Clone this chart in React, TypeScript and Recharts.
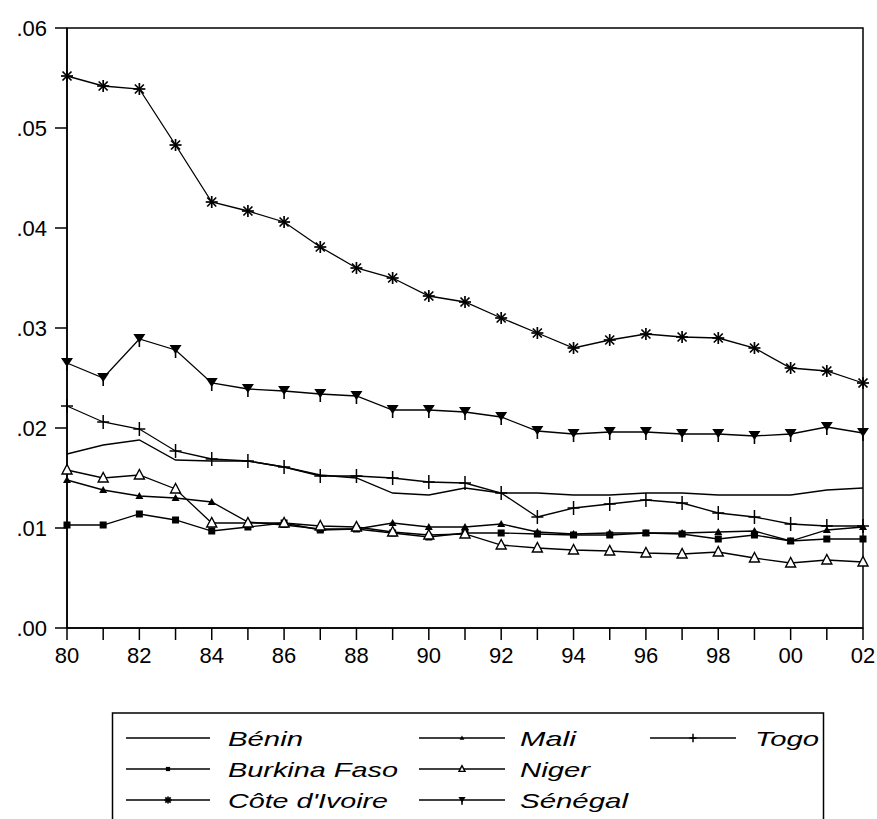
import React from 'react';
import { LineChart, Line, XAxis, YAxis, ReferenceArea } from 'recharts';

const years = ['80','81','82','83','84','85','86','87','88','89','90','91','92','93','94','95','96','97','98','99','00','01','02'];
const yTicks = [0, 0.01, 0.02, 0.03, 0.04, 0.05, 0.06];

const benin = [0.0174, 0.0183, 0.0188, 0.0168, 0.0167, 0.0167, 0.0161, 0.0153, 0.0150, 0.0135, 0.0133, 0.0140, 0.0135, 0.0135, 0.0133, 0.0133, 0.0135, 0.0135, 0.0133, 0.0133, 0.0133, 0.0138, 0.0140];
const burkina = [0.0103, 0.0103, 0.0114, 0.0108, 0.0097, 0.0101, 0.0105, 0.0098, 0.0099, 0.0095, 0.0091, 0.0095, 0.0095, 0.0094, 0.0093, 0.0093, 0.0095, 0.0094, 0.0089, 0.0093, 0.0087, 0.0089, 0.0089];
const coteIvoire = [0.0552, 0.0542, 0.0539, 0.0483, 0.0426, 0.0417, 0.0406, 0.0381, 0.0360, 0.0350, 0.0332, 0.0326, 0.0310, 0.0295, 0.0280, 0.0288, 0.0294, 0.0291, 0.0290, 0.0280, 0.0260, 0.0257, 0.0245];
const mali = [0.0148, 0.0138, 0.0132, 0.0130, 0.0126, 0.0106, 0.0103, 0.0099, 0.0099, 0.0105, 0.0101, 0.0101, 0.0104, 0.0096, 0.0094, 0.0095, 0.0095, 0.0095, 0.0096, 0.0097, 0.0087, 0.0098, 0.0101];
const niger = [0.0158, 0.0150, 0.0153, 0.0139, 0.0105, 0.0105, 0.0105, 0.0102, 0.0101, 0.0096, 0.0093, 0.0094, 0.0083, 0.0080, 0.0078, 0.0077, 0.0075, 0.0074, 0.0076, 0.0070, 0.0065, 0.0068, 0.0066];
const senegal = [0.0265, 0.0250, 0.0289, 0.0278, 0.0245, 0.0239, 0.0237, 0.0234, 0.0232, 0.0218, 0.0218, 0.0216, 0.0211, 0.0197, 0.0194, 0.0196, 0.0196, 0.0194, 0.0194, 0.0192, 0.0194, 0.0201, 0.0195];
const togo = [0.0222, 0.0206, 0.0199, 0.0177, 0.0169, 0.0167, 0.0161, 0.0152, 0.0152, 0.0150, 0.0146, 0.0145, 0.0135, 0.0111, 0.0120, 0.0124, 0.0128, 0.0125, 0.0115, 0.0111, 0.0104, 0.0102, 0.0102];

const data = years.map((year, i) => ({
  year,
  benin: benin[i],
  burkina: burkina[i],
  cote: coteIvoire[i],
  mali: mali[i],
  niger: niger[i],
  senegal: senegal[i],
  togo: togo[i],
}));

type Shape = 'none' | 'square' | 'asterisk' | 'triUp' | 'triOpen' | 'triDown' | 'plus';

function Marker({ shape, cx, cy, s = 1 }: { shape: Shape; cx: number; cy: number; s?: number }) {
  const k = (v: number) => v * s;
  switch (shape) {
    case 'square':
      return <rect x={cx - k(3.5)} y={cy - k(3.5)} width={k(7)} height={k(7)} fill="#000" />;
    case 'asterisk':
      return (
        <g stroke="#000" strokeWidth={1.7}>
          <line x1={cx - k(6)} y1={cy} x2={cx + k(6)} y2={cy} />
          <line x1={cx} y1={cy - k(6)} x2={cx} y2={cy + k(6)} />
          <line x1={cx - k(4.5)} y1={cy - k(4.5)} x2={cx + k(4.5)} y2={cy + k(4.5)} />
          <line x1={cx - k(4.5)} y1={cy + k(4.5)} x2={cx + k(4.5)} y2={cy - k(4.5)} />
        </g>
      );
    case 'triUp':
      return <polygon points={`${cx},${cy - k(4)} ${cx - k(4)},${cy + k(3)} ${cx + k(4)},${cy + k(3)}`} fill="#000" />;
    case 'triOpen':
      return <polygon points={`${cx},${cy - k(5.5)} ${cx - k(5)},${cy + k(4)} ${cx + k(5)},${cy + k(4)}`} fill="#fff" stroke="#000" strokeWidth={1.4} />;
    case 'triDown':
      return (
        <g>
          <polygon points={`${cx - k(6)},${cy - k(5)} ${cx + k(6)},${cy - k(5)} ${cx},${cy + k(4)}`} fill="#000" />
          <line x1={cx} y1={cy} x2={cx} y2={cy + k(8)} stroke="#000" strokeWidth={1.6} />
        </g>
      );
    case 'plus':
      return (
        <g stroke="#000" strokeWidth={1.5}>
          <line x1={cx - k(6)} y1={cy} x2={cx + k(6)} y2={cy} />
          <line x1={cx} y1={cy - k(7)} x2={cx} y2={cy + k(7)} />
        </g>
      );
    default:
      return null;
  }
}

const makeDot = (shape: Shape, name: string) => (props: any) => {
  const { cx, cy, index } = props;
  if (cx == null || cy == null) return <g key={`${name}-${index}`} />;
  return (
    <g key={`${name}-${index}`}>
      <Marker shape={shape} cx={cx} cy={cy} />
    </g>
  );
};

const seriesDefs: { key: string; label: string; shape: Shape }[] = [
  { key: 'benin', label: 'Bénin', shape: 'none' },
  { key: 'burkina', label: 'Burkina Faso', shape: 'square' },
  { key: 'cote', label: "Côte d'Ivoire", shape: 'asterisk' },
  { key: 'mali', label: 'Mali', shape: 'triUp' },
  { key: 'niger', label: 'Niger', shape: 'triOpen' },
  { key: 'senegal', label: 'Sénégal', shape: 'triDown' },
  { key: 'togo', label: 'Togo', shape: 'plus' },
];

const legendLayout = [
  { col: 0, row: 0, w: 75 },
  { col: 0, row: 1, w: 170 },
  { col: 0, row: 2, w: 160 },
  { col: 1, row: 0, w: 56 },
  { col: 1, row: 1, w: 70 },
  { col: 1, row: 2, w: 108 },
  { col: 2, row: 0, w: 64 },
];
const colLine = [[126, 210], [419, 505], [650, 736]];
const colText = [228, 520, 755];
const rowY = [738, 769, 800];

const font = "'Liberation Sans', Arial, sans-serif";

export default function App() {
  return (
    <div style={{ position: 'absolute', left: 0, top: 0, width: 877, height: 819, overflow: 'hidden', background: '#fff' }}>
      <LineChart width={877} height={700} data={data} margin={{ top: 28, right: 14, left: 0, bottom: 32 }}>
        <XAxis
          dataKey="year"
          interval={0}
          height={40}
          tickSize={12}
          tickMargin={7}
          axisLine={{ stroke: '#000', strokeWidth: 1.5 }}
          tickLine={{ stroke: '#000', strokeWidth: 1.5 }}
          tick={{ fill: '#000', fontSize: 22, fontFamily: font }}
          tickFormatter={(v: string) => (parseInt(v, 10) % 2 === 0 ? v : '')}
        />
        <YAxis
          domain={[0, 0.06]}
          ticks={yTicks}
          width={67}
          tickSize={12}
          tickMargin={8}
          axisLine={{ stroke: '#000', strokeWidth: 1.5 }}
          tickLine={{ stroke: '#000', strokeWidth: 1.5 }}
          tick={{ fill: '#000', fontSize: 22, fontFamily: font }}
          tickFormatter={(v: number) => v.toFixed(2).slice(1)}
        />
        <ReferenceArea x1="80" x2="02" y1={0} y2={0.06} fill="none" fillOpacity={0} stroke="#000" strokeWidth={1.5} ifOverflow="visible" />
        {seriesDefs.map((s) => (
          <Line
            key={s.key}
            dataKey={s.key}
            type="linear"
            stroke="#000"
            strokeWidth={1.3}
            dot={s.shape === 'none' ? false : makeDot(s.shape, s.key)}
            activeDot={false}
            isAnimationActive={false}
          />
        ))}
      </LineChart>
      <svg width={877} height={819} style={{ position: 'absolute', left: 0, top: 0 }}>
        <rect x={112.5} y={713} width={711} height={130} fill="none" stroke="#000" strokeWidth={1.5} />
        {seriesDefs.map((s, i) => {
          const L = legendLayout[i];
          const [x1, x2] = colLine[L.col];
          const y = rowY[L.row];
          return (
            <g key={s.key}>
              <line x1={x1} y1={y} x2={x2} y2={y} stroke="#000" strokeWidth={1.3} />
              <Marker shape={s.shape} cx={(x1 + x2) / 2} cy={y} s={0.6} />
              <text
                x={colText[L.col]}
                y={y}
                dominantBaseline="central"
                fontFamily={font}
                fontStyle="italic"
                fontSize={21}
                textLength={L.w}
                lengthAdjust="spacingAndGlyphs"
                fill="#000"
              >
                {s.label}
              </text>
            </g>
          );
        })}
      </svg>
    </div>
  );
}
